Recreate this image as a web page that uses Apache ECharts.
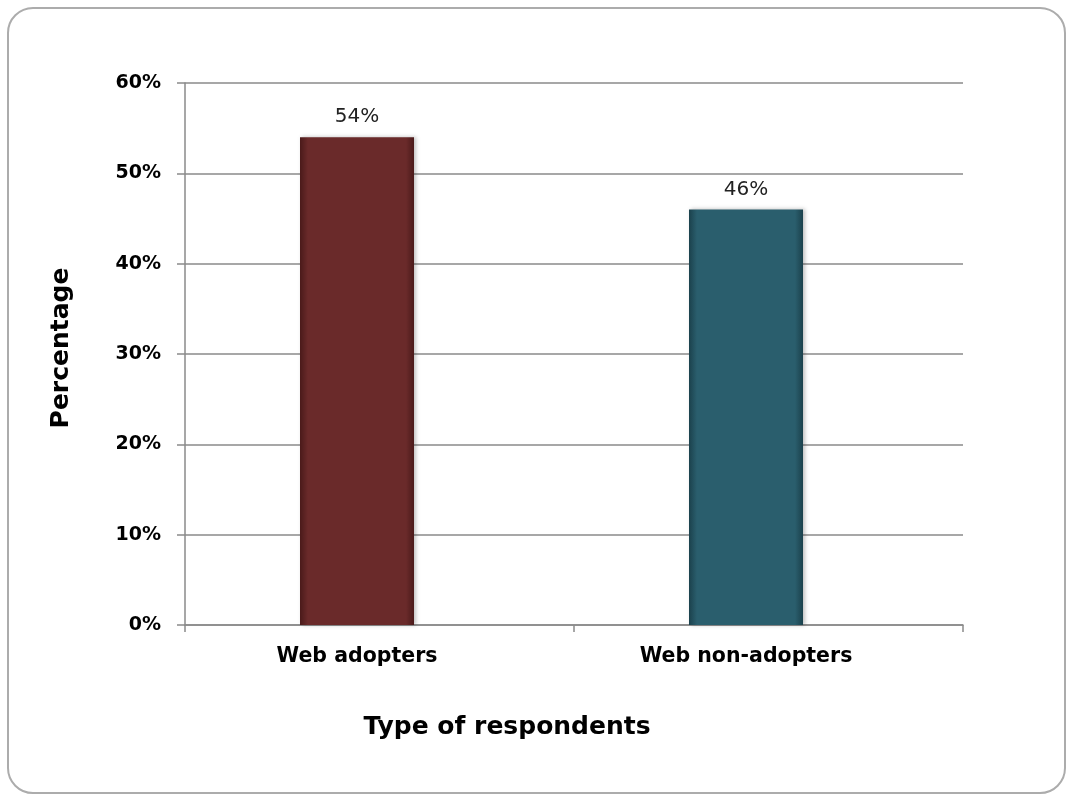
<!DOCTYPE html>
<html>
<head>
<meta charset="utf-8">
<title>Type of respondents</title>
<script src="https://cdn.jsdelivr.net/npm/echarts@6/dist/echarts.min.js"></script>
<style>
  html, body { margin: 0; padding: 0; background: #ffffff; }
  #frame {
    position: absolute; left: 7px; top: 7px; width: 1055px; height: 783px;
    border: 2px solid #acacac; border-radius: 26px; background: #fff;
  }
  #chart { position: absolute; left: 0; top: 0; width: 1067px; height: 795px; }
</style>
</head>
<body>
<div id="frame"></div>
<div id="chart"></div>
<script>
// Survey result: share of respondents by type
const categories = ['Web adopters', 'Web non-adopters'];
const shares = [54, 46];
const tickLabels = ['0%', '10%', '20%', '30%', '40%', '50%', '60%'];
const barColors = [
  { main: '#6a2a2a', edge: '#4a1a1a' },
  { main: '#2a5e6d', edge: '#1b414c' }
];

const chart = echarts.init(document.getElementById('chart'), null, { renderer: 'canvas' });

function barFill(c) {
  return new echarts.graphic.LinearGradient(0, 0, 1, 0, [
    { offset: 0, color: c.edge },
    { offset: 0.07, color: c.main },
    { offset: 0.93, color: c.main },
    { offset: 1, color: c.edge }
  ]);
}

const option = {
  backgroundColor: 'transparent',
  animation: false,
  grid: [
    // frame grid: axis line, ticks, gridlines
    { left: 185, right: 104, top: 83, bottom: 170 },
    // bar grid, bars sit slightly left of the tick midpoints
    { left: 162.5, right: 126.5, top: 83, bottom: 170 }
  ],
  xAxis: [
    {
      gridIndex: 0, type: 'category', data: categories.map(() => ''),
      boundaryGap: true,
      axisLine: { show: true, lineStyle: { color: '#8a8a8a', width: 1.5 } },
      axisTick: { show: true, length: 7, interval: 0, alignWithLabel: false, lineStyle: { color: '#8a8a8a', width: 1.5 } },
      axisLabel: { show: false },
      splitLine: { show: false }
    },
    {
      gridIndex: 1, type: 'category', data: categories,
      axisLine: { show: false }, axisTick: { show: false },
      axisLabel: {
        margin: 21, color: '#000', fontFamily: 'DejaVu Sans', fontWeight: 'bold', fontSize: 20.5
      }
    }
  ],
  yAxis: [
    {
      gridIndex: 0, type: 'value', min: 0, max: 60, interval: 10,
      axisLine: { show: true, lineStyle: { color: '#8a8a8a', width: 1.5 } },
      axisTick: { show: true, length: 8, lineStyle: { color: '#8a8a8a', width: 1.5 } },
      axisLabel: {
        margin: 24, color: '#000', fontFamily: 'DejaVu Sans', fontWeight: 'bold', fontSize: 19,
        formatter: (v) => tickLabels[Math.round(v / 10)]
      },
      splitLine: { show: true, lineStyle: { color: '#8a8a8a', width: 1.5 } }
    },
    {
      gridIndex: 1, type: 'value', min: 0, max: 60, interval: 10,
      axisLine: { show: false }, axisTick: { show: false },
      axisLabel: { show: false }, splitLine: { show: false }
    }
  ],
  series: [
    {
      type: 'bar',
      xAxisIndex: 1, yAxisIndex: 1,
      barWidth: 114,
      data: shares.map((v, i) => ({
        value: v,
        itemStyle: {
          color: barFill(barColors[i]),
          shadowColor: 'rgba(0,0,0,0.25)', shadowBlur: 4, shadowOffsetX: 2, shadowOffsetY: 0
        }
      })),
      label: {
        show: true, position: 'top', distance: 10,
        color: '#222', fontFamily: 'DejaVu Sans', fontSize: 20,
        formatter: (p) => p.value + '%'
      }
    }
  ],
  graphic: [
    {
      type: 'text', x: 61, y: 348, rotation: Math.PI / 2,
      style: {
        text: 'Percentage', fill: '#000', font: 'bold 25px "DejaVu Sans"',
        textAlign: 'center', textVerticalAlign: 'middle'
      }
    },
    {
      type: 'text', x: 507, y: 727,
      style: {
        text: 'Type of respondents', fill: '#000', font: 'bold 25px "DejaVu Sans"',
        textAlign: 'center', textVerticalAlign: 'middle'
      }
    }
  ]
};

chart.setOption(option);
</script>
</body>
</html>
